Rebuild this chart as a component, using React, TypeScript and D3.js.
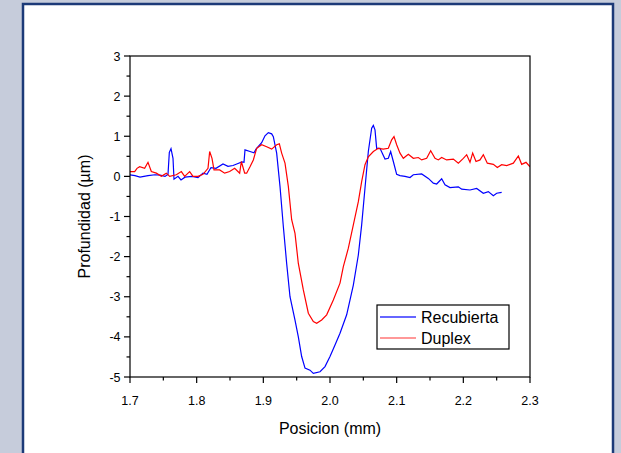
import React from "react";
import * as d3 from "d3";

const xTicks = [1.7, 1.8, 1.9, 2.0, 2.1, 2.2, 2.3];
const yTicks = [3, 2, 1, 0, -1, -2, -3, -4, -5];

const recubiertaX = [1.700, 1.7075, 1.715, 1.727, 1.7375, 1.745, 1.7525, 1.757, 1.759, 1.7615, 1.7645, 1.766, 1.772, 1.7765, 1.7825, 1.793, 1.802, 1.8095, 1.8155, 1.8215, 1.829, 1.8395, 1.847, 1.8545, 1.862, 1.868, 1.871, 1.8725, 1.88, 1.886, 1.889, 1.8975, 1.9025, 1.9075, 1.9125, 1.915, 1.92, 1.925, 1.93, 1.935, 1.94, 1.9475, 1.9525, 1.9575, 1.9625, 1.97, 1.975, 1.985, 1.9925, 2.0, 2.0075, 2.015, 2.025, 2.035, 2.0425, 2.0475, 2.0525, 2.0575, 2.0625, 2.065, 2.0675, 2.07, 2.075, 2.0825, 2.0875, 2.091, 2.095, 2.1, 2.105, 2.1125, 2.12, 2.125, 2.1375, 2.1475, 2.155, 2.16, 2.1675, 2.1725, 2.18, 2.1925, 2.1975, 2.21, 2.22, 2.23, 2.2375, 2.245, 2.25, 2.2575];
const recubiertaY = [0.04, 0.02, -0.02, 0.02, 0.04, 0.03, 0.0, 0.05, 0.6, 0.69, 0.45, -0.07, 0.0, -0.09, -0.02, 0.0, -0.03, 0.08, 0.05, 0.22, 0.2, 0.31, 0.25, 0.27, 0.32, 0.36, 0.35, 0.66, 0.62, 0.59, 0.68, 0.84, 1.01, 1.09, 1.06, 0.99, 0.58, -0.25, -1.25, -2.17, -3.0, -3.58, -4.0, -4.49, -4.78, -4.83, -4.91, -4.87, -4.74, -4.49, -4.2, -3.91, -3.45, -2.71, -1.96, -1.21, -0.29, 0.62, 1.2, 1.27, 1.16, 0.7, 0.7, 0.43, 0.45, 0.62, 0.37, 0.05, 0.02, 0.0, -0.03, 0.04, 0.06, -0.05, -0.17, -0.19, -0.06, -0.21, -0.28, -0.26, -0.32, -0.34, -0.3, -0.42, -0.38, -0.48, -0.42, -0.4];

const duplexX = [1.700, 1.707, 1.7105, 1.7145, 1.722, 1.727, 1.732, 1.7395, 1.747, 1.7545, 1.7595, 1.7695, 1.777, 1.782, 1.7895, 1.7945, 1.802, 1.8095, 1.817, 1.8195, 1.823, 1.826, 1.8345, 1.842, 1.8495, 1.857, 1.8645, 1.867, 1.872, 1.875, 1.88, 1.885, 1.89, 1.8975, 1.905, 1.9125, 1.92, 1.924, 1.9275, 1.9325, 1.9375, 1.9425, 1.9475, 1.9525, 1.96, 1.9675, 1.975, 1.98, 1.9875, 1.995, 2.005, 2.015, 2.02, 2.0275, 2.035, 2.0425, 2.0475, 2.0525, 2.0575, 2.065, 2.0725, 2.08, 2.0875, 2.0925, 2.096, 2.1, 2.105, 2.11, 2.1175, 2.125, 2.1325, 2.1375, 2.145, 2.151, 2.1575, 2.1625, 2.1675, 2.175, 2.185, 2.1925, 2.2, 2.205, 2.21, 2.214, 2.219, 2.225, 2.23, 2.236, 2.245, 2.251, 2.2575, 2.265, 2.275, 2.2825, 2.2875, 2.294, 2.3];
const duplexY = [0.12, 0.12, 0.2, 0.24, 0.2, 0.35, 0.12, 0.08, 0.0, 0.08, 0.0, 0.04, 0.12, 0.0, 0.12, 0.0, 0.0, 0.05, 0.2, 0.62, 0.45, 0.16, 0.16, 0.08, 0.12, 0.2, 0.08, 0.37, 0.08, 0.08, 0.24, 0.41, 0.7, 0.79, 0.74, 0.68, 0.79, 0.81, 0.58, 0.33, -0.25, -1.08, -1.42, -2.17, -2.83, -3.41, -3.62, -3.66, -3.58, -3.45, -3.08, -2.66, -2.25, -1.79, -1.21, -0.63, -0.13, 0.29, 0.49, 0.62, 0.7, 0.68, 0.7, 0.91, 0.99, 0.79, 0.58, 0.45, 0.55, 0.45, 0.47, 0.41, 0.45, 0.64, 0.45, 0.41, 0.47, 0.41, 0.43, 0.33, 0.45, 0.54, 0.35, 0.58, 0.37, 0.41, 0.54, 0.33, 0.3, 0.22, 0.29, 0.27, 0.33, 0.51, 0.3, 0.35, 0.24];

const seriesNames = ["Recubierta", "Duplex"];
const seriesColors = ["#0000ff", "#ff0000"];

export default function App() {
  const W = 621, H = 453;
  const left = 130, right = 530, top = 56, bottom = 377;
  const x = d3.scaleLinear().domain([1.7, 2.3]).range([left, right]);
  const y = d3.scaleLinear().domain([-5, 3]).range([bottom, top]);
  const line = d3.line<[number, number]>().x(d => x(d[0])).y(d => y(d[1]));
  const blue = line(recubiertaX.map((v, i) => [v, recubiertaY[i]] as [number, number])) || "";
  const red = line(duplexX.map((v, i) => [v, duplexY[i]] as [number, number])) || "";
  const xMinor = d3.range(1.75, 2.3, 0.1);
  const yMinor = d3.range(-4.5, 3, 1);
  const font = "Arial, 'Liberation Sans', sans-serif";
  return (
    <svg width={W} height={H} style={{ position: "absolute", left: 0, top: 0 }} fontFamily={font}>
      <rect x={0} y={0} width={W} height={H} fill="#c6ccdb" />
      <rect x={23} y={4} width={590} height={H + 10} fill="#ffffff" stroke="#1c3a78" strokeWidth={2.5} />
      <defs>
        <clipPath id="plot"><rect x={left} y={top} width={right - left} height={bottom - top} /></clipPath>
      </defs>
      <g clipPath="url(#plot)" fill="none" strokeWidth={1.2}>
        <path d={blue} stroke={seriesColors[0]} />
        <path d={red} stroke={seriesColors[1]} />
      </g>
      <rect x={left} y={top} width={right - left} height={bottom - top} fill="none" stroke="#000" strokeWidth={1.2} />
      {xTicks.map(t => (
        <g key={"x" + t}>
          <line x1={x(t)} x2={x(t)} y1={bottom} y2={bottom + 6} stroke="#000" strokeWidth={1.2} />
          <text x={x(t)} y={405} fontSize={12.5} textAnchor="middle" fill="#000">{t.toFixed(1)}</text>
        </g>
      ))}
      {xMinor.map(t => (
        <line key={"xm" + t} x1={x(t)} x2={x(t)} y1={bottom} y2={bottom + 3.5} stroke="#000" strokeWidth={1.2} />
      ))}
      {yTicks.map(t => (
        <g key={"y" + t}>
          <line x1={left - 6} x2={left} y1={y(t)} y2={y(t)} stroke="#000" strokeWidth={1.2} />
          <text x={120.5} y={y(t) + 4.5} fontSize={12.5} textAnchor="end" fill="#000">{t}</text>
        </g>
      ))}
      {yMinor.map(t => (
        <line key={"ym" + t} x1={left - 3.5} x2={left} y1={y(t)} y2={y(t)} stroke="#000" strokeWidth={1.2} />
      ))}
      <text x={(left + right) / 2} y={434} fontSize={16} textAnchor="middle" fill="#000">Posicion (mm)</text>
      <text transform={`translate(90,${(top + bottom) / 2}) rotate(-90)`} fontSize={16} textAnchor="middle" fill="#000">Profundidad (µm)</text>
      <g>
        <rect x={377} y={305} width={132} height={44} fill="#fff" stroke="#000" strokeWidth={1.2} />
        {seriesNames.map((n, i) => (
          <g key={n}>
            <line x1={380} x2={416} y1={317 + i * 21} y2={317 + i * 21} stroke={seriesColors[i]} strokeWidth={i === 0 ? 1.6 : 1.2} opacity={0.8} />
            <text x={421} y={322.5 + i * 21} fontSize={16} fill="#000">{n}</text>
          </g>
        ))}
      </g>
    </svg>
  );
}
